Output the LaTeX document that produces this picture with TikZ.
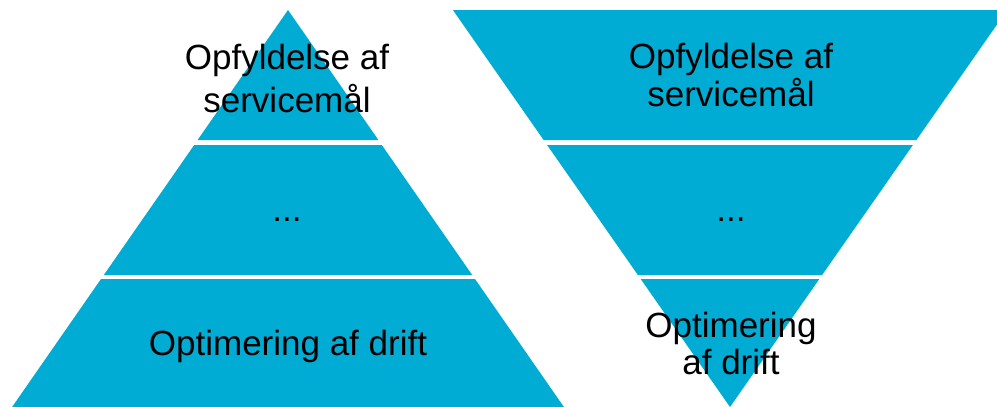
\documentclass[tikz,border=0pt]{standalone}
\usepackage{fontspec}
\setmainfont{Liberation Sans}
\definecolor{tierblue}{RGB}{0,172,212}
\begin{document}
\begin{tikzpicture}[x=1pt,y=-1pt,
  tier/.style={fill=tierblue,draw=none},
  lbl/.style={inner sep=0pt,align=center,font=\fontsize{35}{#1}\selectfont,text=black},
  lbl/.default=37]
\useasboundingbox (0,0) rectangle (997,407);
\clip (0,0) rectangle (997,407);
% left pyramid
\fill[tier] (288,10) -- (378.4,140) -- (197.6,140) -- cycle;
\fill[tier] (194.2,145) -- (381.8,145) -- (472.2,275) -- (103.8,275) -- cycle;
\fill[tier] (101,279) -- (475,279) -- (565.3,409) -- (10.7,409) -- cycle;
% right inverted pyramid
\fill[tier] (452.9,10) -- (1007.1,10) -- (916.4,140) -- (543.6,140) -- cycle;
\fill[tier] (547.1,145) -- (912.9,145) -- (822.1,275) -- (637.9,275) -- cycle;
\fill[tier] (640.7,279) -- (819.3,279) -- (730,407) -- cycle;
% labels
\node[lbl=43,anchor=north] (l1) at (287,43.5) {Opfyldelse af\\servicemål};
\node[lbl,anchor=base] (l2) at (287,221) {...};
\node[lbl,anchor=base] (l3) at (288,355) {Optimering af drift};
\node[lbl=38,anchor=north] (r1) at (731,42.7) {Opfyldelse af\\servicemål};
\node[lbl,anchor=base] (r2) at (731,221) {...};
\node[lbl=37,anchor=north] (r3) at (731,311.5) {Optimering\\af drift};
\end{tikzpicture}
\end{document}
